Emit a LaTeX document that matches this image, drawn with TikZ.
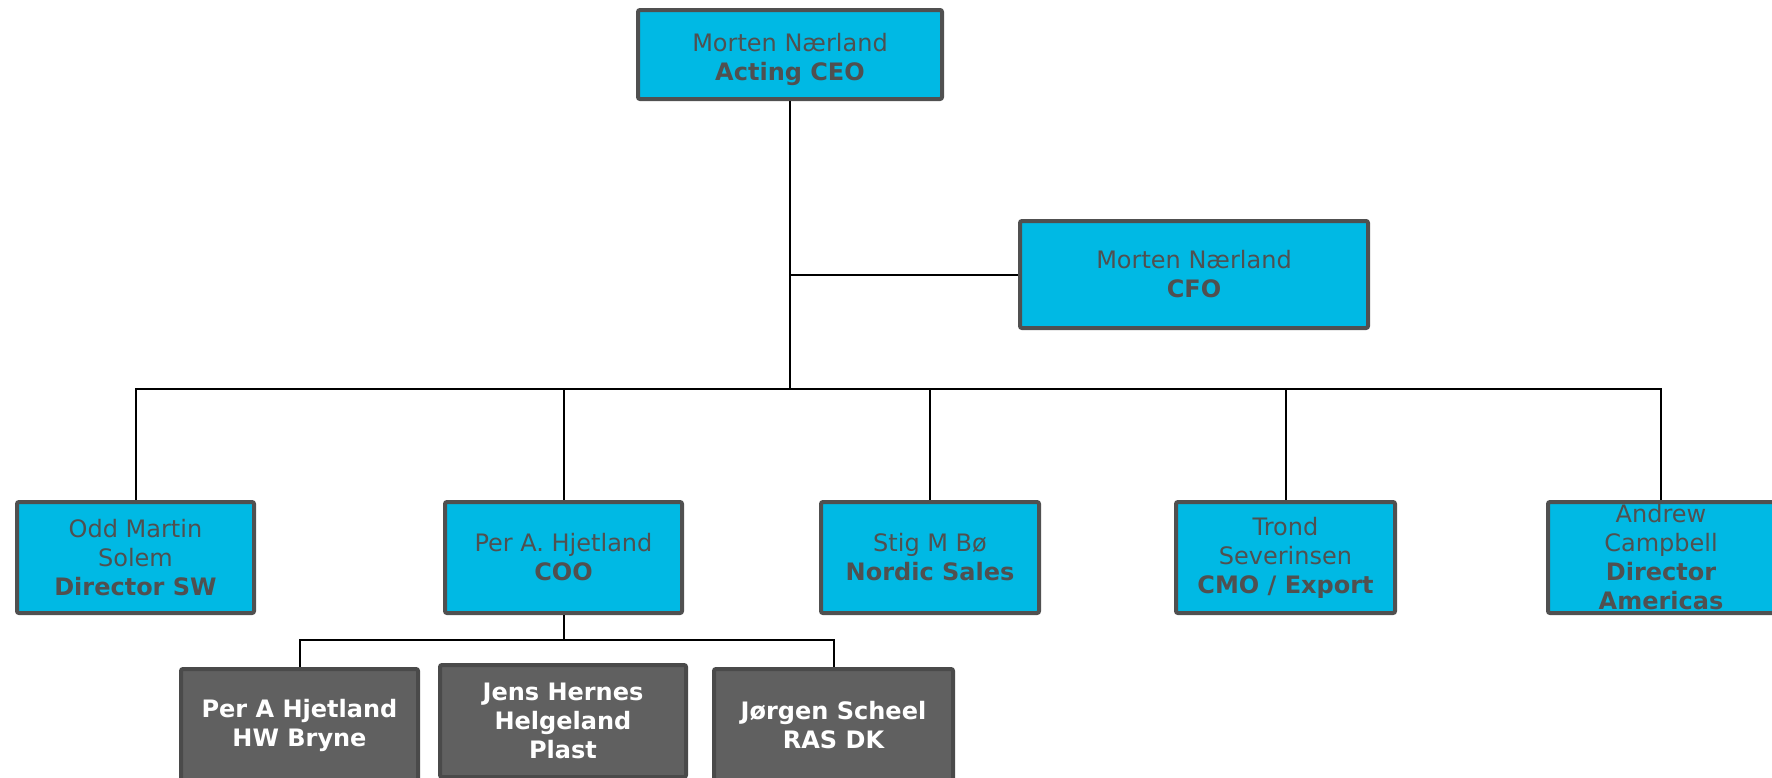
\documentclass[tikz,border=0pt]{standalone}
\usepackage{fontspec}
\setmainfont{DejaVu Sans}
\definecolor{boxblue}{RGB}{0,185,228}
\definecolor{boxedge}{RGB}{80,80,80}
\definecolor{boxgrey}{RGB}{96,96,96}
\definecolor{edgegrey}{RGB}{74,74,74}
\begin{document}
\begin{tikzpicture}[x=0.5pt, y=-0.5pt,
  lead/.style={draw=boxedge, fill=boxblue, line width=2pt, rounded corners=1pt, text=boxedge, align=center, inner sep=0pt, font=\fontsize{12}{14.5}\selectfont},
  unit/.style={draw=edgegrey, fill=boxgrey, line width=2pt, rounded corners=1pt, text=white, align=center, inner sep=0pt, minimum height=56pt, font=\fontsize{12}{14.5}\selectfont\bfseries},
  link/.style={line width=1pt}]
  \useasboundingbox (0,0) rectangle (1772,777);
  \clip (0,0) rectangle (1772,777);
  \node[lead, minimum width=152pt, minimum height=44.5pt] (ceo) at (790,54.5) {\rule{0pt}{13.6pt}Morten Nærland\\\textbf{Acting CEO}};
  \node[lead, minimum width=174pt, minimum height=53.5pt] (cfo) at (1194,274.5) {Morten Nærland\\\textbf{CFO}};
  \foreach \nm/\px/\bw/\txt in {odd/135.5/118.5/{Odd Martin\\Solem\\\textbf{Director SW}},
      coo/563.5/118.5/{Per A. Hjetland\\\textbf{COO}},
      stig/930/109/{Stig M Bø\\\textbf{Nordic Sales}},
      trond/1285.5/109.5/{Trond\\Severinsen\\\textbf{CMO / Export}},
      andrew/1661/113/{Andrew\\Campbell\\\textbf{Director}\\\textbf{Americas}}} {
    \node[lead, minimum width=\bw pt, minimum height=55.5pt] (\nm) at (\px,557.5) {\txt};
  }
  \node[unit, minimum width=118.5pt] (hwb) at (299.5,725) {Per A Hjetland\\HW Bryne};
  \node[unit, minimum width=123pt] (jens) at (563,721) {Jens Hernes\\Helgeland\\Plast};
  \node[unit, minimum width=119.5pt] (ras) at (833.5,725) {Jørgen Scheel\\RAS DK};
  \coordinate (bus) at (ceo.south |- 0,389);
  \coordinate (subbus) at (coo.south |- 0,640);
  \draw[link] (ceo.south) -- (bus);
  \draw[link] (ceo.south) |- (cfo.west);
  \foreach \nm in {odd, coo, stig, trond, andrew}
    \draw[link] (bus) -| (\nm.north);
  \draw[link] (coo.south) -- (subbus);
  \foreach \nm in {hwb, ras}
    \draw[link] (subbus) -| (\nm.north);
\end{tikzpicture}
\end{document}
